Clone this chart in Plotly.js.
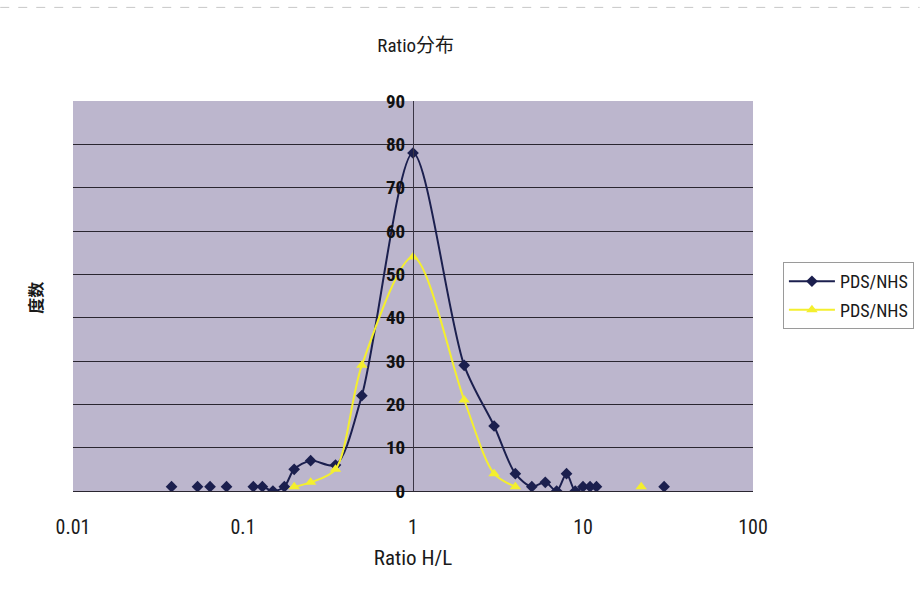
<!DOCTYPE html>
<html>
<head>
<meta charset="utf-8">
<script src="https://cdn.plot.ly/plotly-3.0.1.min.js"></script>
<style>html,body{margin:0;padding:0;background:#fff;}#chart{width:920px;height:592px;}</style>
</head>
<body>
<div id="chart"></div>
<script>
// Series 1 (navy, diamonds) — null marks a gap in the line
const navyX = [0.038, 0.046, 0.054, 0.059, 0.064, 0.072, 0.08, 0.1, 0.115, 0.13, 0.15, 0.175, 0.2, 0.25, 0.35, 0.5, 1, 2, 3, 4, 5, 6, 7, 8, 9, 10, 11, 12, 20, 30];
const navyY = [1, null, 1, null, 1, null, 1, null, 1, 1, 0, 1, 5, 7, 6, 22, 78, 29, 15, 4, 1, 2, 0, 4, 0, 1, 1, 1, null, 1];
// Series 2 (yellow, triangles)
const yellowX = [0.2, 0.25, 0.35, 0.5, 1, 2, 3, 4, 10, 22];
const yellowY = [1, 2, 5, 29, 54, 21, 4, 1, null, 1];
const seriesNames = ["PDS/NHS", "PDS/NHS"];
const xTickVals = [0.01, 0.1, 1, 10, 100];
const xTickText = ["0.01", "0.1", "1", "10", "100"];
const yTickVals = [0, 10, 20, 30, 40, 50, 60, 70, 80, 90];

const fontFam = '"Roboto Condensed", "Liberation Sans Narrow", "Liberation Sans", "Noto Sans CJK SC", sans-serif';

const traces = [
  {
    x: navyX, y: navyY, name: seriesNames[0], type: 'scatter', mode: 'lines+markers',
    connectgaps: false, legendgroup: 'a',
    line: {color: '#1b1f4e', width: 2, shape: 'spline', smoothing: 0.85},
    marker: {symbol: 'diamond', size: 9, color: '#1b1f4e'}
  },
  {
    x: yellowX, y: yellowY, name: seriesNames[1], type: 'scatter', mode: 'lines+markers',
    connectgaps: false, legendgroup: 'b',
    line: {color: '#f4ef2e', width: 2, shape: 'spline', smoothing: 0.85},
    marker: {symbol: 'triangle-up', size: 10, color: '#f4ef2e'}
  }
];

const layout = {
  width: 920, height: 592,
  margin: {l: 73, r: 167, t: 101, b: 101, autoexpand: false},
  paper_bgcolor: '#ffffff',
  plot_bgcolor: '#bcb6cd',
  showlegend: true,
  title: {
    text: 'Ratio分布',
    font: {family: fontFam, size: 19, color: '#1a1a1a'},
    xref: 'paper', x: 0.504, xanchor: 'center',
    yref: 'container', y: 0.924, yanchor: 'middle'
  },
  xaxis: {
    type: 'log', range: [-2, 2],
    tickmode: 'array', tickvals: xTickVals, ticktext: xTickText,
    showgrid: false, zeroline: false, showline: false, ticks: '',
    ticklabelstandoff: 22,
    tickfont: {family: fontFam, size: 20, color: '#1a1a1a'},
    title: {text: 'Ratio H/L', font: {family: fontFam, size: 21, color: '#1a1a1a'}, standoff: 12}
  },
  yaxis: {
    range: [0, 90], anchor: 'free', position: 0.5, side: 'left',
    tickmode: 'array', tickvals: yTickVals,
    showgrid: true, gridcolor: '#2a2630', gridwidth: 1,
    zeroline: true, zerolinecolor: '#2a2630', zerolinewidth: 1,
    showline: true, linecolor: '#3a3545', linewidth: 1,
    ticks: '', ticklabelstandoff: 4,
    tickfont: {family: fontFam, size: 19, color: '#111', weight: 'bold'}
  },
  legend: {
    x: 1.044, xanchor: 'left', y: 0.587, yanchor: 'top',
    bgcolor: '#ffffff', bordercolor: '#9a9a9a', borderwidth: 1,
    font: {family: fontFam, size: 18, color: '#1a1a1a'},
    itemwidth: 46, tracegroupgap: 2
  },
  annotations: [
    {
      text: '度数', xref: 'paper', yref: 'paper', x: -0.056, y: 0.495,
      xanchor: 'center', yanchor: 'middle',
      showarrow: false, textangle: -90,
      font: {family: '"Noto Sans CJK SC", sans-serif', size: 16, color: '#1a1a1a', weight: 'bold'}
    }
  ],
  shapes: [
    {type: 'line', xref: 'paper', yref: 'paper', x0: -0.107, x1: 1.245, y0: 1.24, y1: 1.24,
     line: {color: '#c8c8c8', width: 1, dash: 'dash'}}
  ]
};

Plotly.newPlot('chart', traces, layout, {displayModeBar: false, staticPlot: true});
</script>
</body>
</html>
